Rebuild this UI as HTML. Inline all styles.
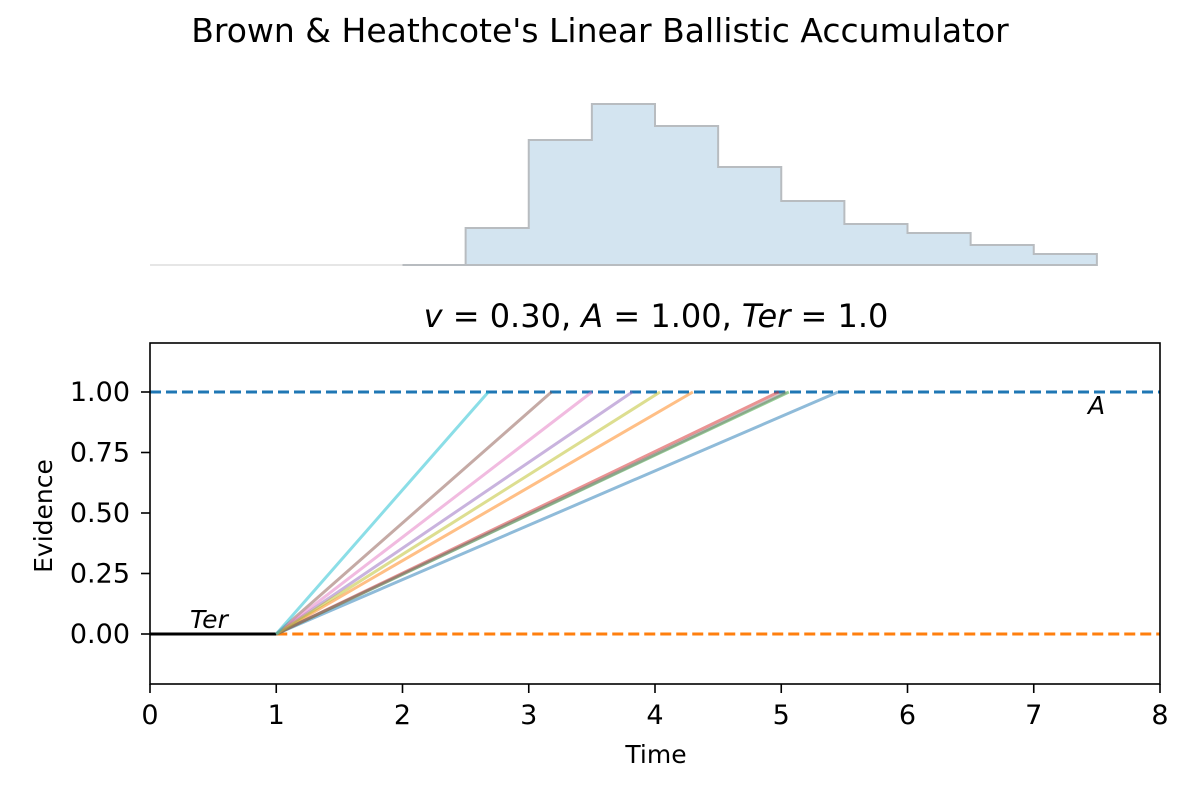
<!DOCTYPE html>
<html><head><meta charset="utf-8"><style>
body{margin:0;background:#fff}
svg text{font-family:"DejaVu Sans","Liberation Sans",sans-serif;fill:#000}
</style></head><body>
<svg id="chart" width="1200" height="800" viewBox="0 0 1200 800">
<text x="600" y="42" text-anchor="middle" font-size="33">Brown &amp; Heathcote's Linear Ballistic Accumulator</text>
<g id="hist"></g>
<text x="656" y="327" text-anchor="middle" font-size="32"><tspan font-style="italic">v</tspan> = 0.30, <tspan font-style="italic">A</tspan> = 1.00, <tspan font-style="italic">Ter</tspan> = 1.0</text>
<g id="main"></g>
<text x="656" y="763" text-anchor="middle" font-size="25">Time</text>
<text transform="translate(52,516) rotate(-90)" text-anchor="middle" font-size="25">Evidence</text>
</svg>
<script>
const binEdges=[2,2.5,3,3.5,4,4.5,5,5.5,6,6.5,7,7.5];
const binCounts=[0,37,125,161,139,98,64,41,32,20,11];
const finishTimes=[5.45,4.3,5.06,4.98,3.82,3.18,3.5,5.04,4.04,2.68];
const colors=["#1f77b4","#ff7f0e","#2ca02c","#d62728","#9467bd","#8c564b","#e377c2","#7f7f7f","#bcbd22","#17becf"];
const xTicks=[0,1,2,3,4,5,6,7,8];
const yTicks=[0,0.25,0.5,0.75,1.0];
const Ter=1.0, A=1.0;
const NS="http://www.w3.org/2000/svg";
const X=t=>150+t*126.25;
const Y=v=>634-v*242;
const HB=265;
function mk(tag,attrs,parent){const e=document.createElementNS(NS,tag);for(const k in attrs)e.setAttribute(k,attrs[k]);parent.appendChild(e);return e;}
const hist=document.getElementById('hist');
mk('line',{x1:150,y1:HB,x2:X(binEdges[0]),y2:HB,stroke:'#ccc','stroke-width':1},hist);
let d=`M${X(binEdges[0])},${HB}`;
binCounts.forEach((c,i)=>{d+=` L${X(binEdges[i])},${HB-c} L${X(binEdges[i+1])},${HB-c}`;});
d+=` L${X(binEdges[binEdges.length-1])},${HB} Z`;
const hp=mk('path',{d:d,fill:'#d3e4f0',stroke:'#b8bcc0','stroke-width':2},hist);


const g=document.getElementById('main');
mk('line',{x1:150,y1:Y(A),x2:1160,y2:Y(A),stroke:'#1f77b4','stroke-width':3,'stroke-dasharray':'11,5'},g);
mk('line',{x1:X(Ter),y1:Y(0),x2:1160,y2:Y(0),stroke:'#ff7f0e','stroke-width':3,'stroke-dasharray':'11,5'},g);
mk('line',{x1:150,y1:Y(0),x2:X(Ter),y2:Y(0),stroke:'#000','stroke-width':3},g);
finishTimes.forEach((t,i)=>{
 const l=mk('line',{x1:X(Ter),y1:Y(0),x2:X(t),y2:Y(A),stroke:colors[i],'stroke-width':3,'stroke-opacity':0.5},g);
 
 
});
const t1=mk('text',{x:190,y:628,'font-size':25,'font-style':'italic'},g);t1.textContent='Ter';

const t2=mk('text',{x:1088,y:414,'font-size':25,'font-style':'italic'},g);t2.textContent='A';

mk('rect',{x:150,y:343,width:1010,height:341,fill:'none',stroke:'#000','stroke-width':1.6},g);
xTicks.forEach(t=>{
 mk('line',{x1:X(t),y1:684,x2:X(t),y2:693,stroke:'#000','stroke-width':1.6},g);
 const e=mk('text',{x:X(t),y:724,'text-anchor':'middle','font-size':27},g);e.textContent=t;
 
});
yTicks.forEach(v=>{
 mk('line',{x1:141,y1:Y(v),x2:150,y2:Y(v),stroke:'#000','stroke-width':1.6},g);
 const e=mk('text',{x:130,y:Y(v)+9,'text-anchor':'end','font-size':27},g);e.textContent=v.toFixed(2);
 
});
</script>
</body></html>
